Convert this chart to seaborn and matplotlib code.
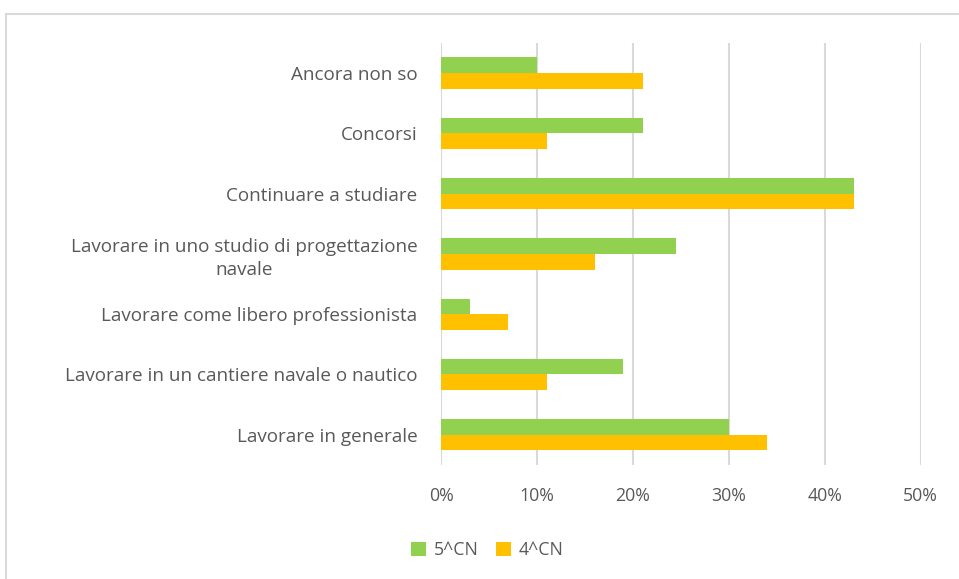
import pandas as pd
import matplotlib.pyplot as plt
import seaborn as sns
from matplotlib.lines import Line2D
from matplotlib.patches import Patch
from matplotlib.ticker import PercentFormatter

# Data
categories = [
    'Ancora non so',
    'Concorsi',
    'Continuare a studiare',
    'Lavorare in uno studio di progettazione\nnavale',
    'Lavorare come libero professionista',
    'Lavorare in un cantiere navale o nautico',
    'Lavorare in generale',
]
series_names = ['5^CN', '4^CN']
values_5cn = [10, 21, 43, 24.5, 3, 19, 30]
values_4cn = [21, 11, 43, 16, 7, 11, 34]
colors = ['#92D050', '#FFC000']
x_ticks = [0, 10, 20, 30, 40, 50]

df = pd.DataFrame({
    'categoria': categories * 2,
    'classe': [series_names[0]] * len(categories) + [series_names[1]] * len(categories),
    'valore': values_5cn + values_4cn,
})

sns.set_style('white')
plt.rcParams['font.family'] = ['Open Sans', 'DejaVu Sans']
text_color = '#595959'
fs = 12.8

fig = plt.figure(figsize=(9.59, 5.79), dpi=100)
ax = fig.add_axes([0.46, 0.197, 0.50, 0.729])

sns.barplot(data=df, y='categoria', x='valore', hue='classe', order=categories,
            hue_order=series_names, palette=colors, saturation=1, width=0.52,
            orient='h', edgecolor='none', ax=ax, legend=False)

ax.set_xlim(0, 50)
ax.set_xticks(x_ticks)
ax.xaxis.set_major_formatter(PercentFormatter(decimals=0))
ax.grid(axis='x', color='#D9D9D9', linewidth=1.5)
ax.set_axisbelow(True)
for s in ax.spines.values():
    s.set_visible(False)
ax.set_xlabel('')
ax.set_ylabel('')
ax.tick_params(axis='both', length=0, colors=text_color)
ax.tick_params(axis='x', pad=16, labelsize=fs)
ax.tick_params(axis='y', pad=17, labelsize=13.6)
for lbl in ax.get_yticklabels():
    lbl.set_multialignment('center')
    lbl.set_linespacing(1.4)

handles = [Patch(facecolor=c, edgecolor='none') for c in colors]
fig.legend(handles, series_names, loc='center', bbox_to_anchor=(0.508, 0.050),
           ncol=2, frameon=False, fontsize=fs, labelcolor=text_color,
           handlelength=0.85, handleheight=0.85, handletextpad=0.4, columnspacing=1.0)

# chart frame (top and left edges visible in the screenshot)
fig.add_artist(Line2D([6 / 959, 1], [1 - 14 / 579, 1 - 14 / 579], color='#D9D9D9', linewidth=1.5))
fig.add_artist(Line2D([6 / 959, 6 / 959], [0, 1 - 14 / 579], color='#D9D9D9', linewidth=1.5))

fig.savefig('out.png', dpi=100)
